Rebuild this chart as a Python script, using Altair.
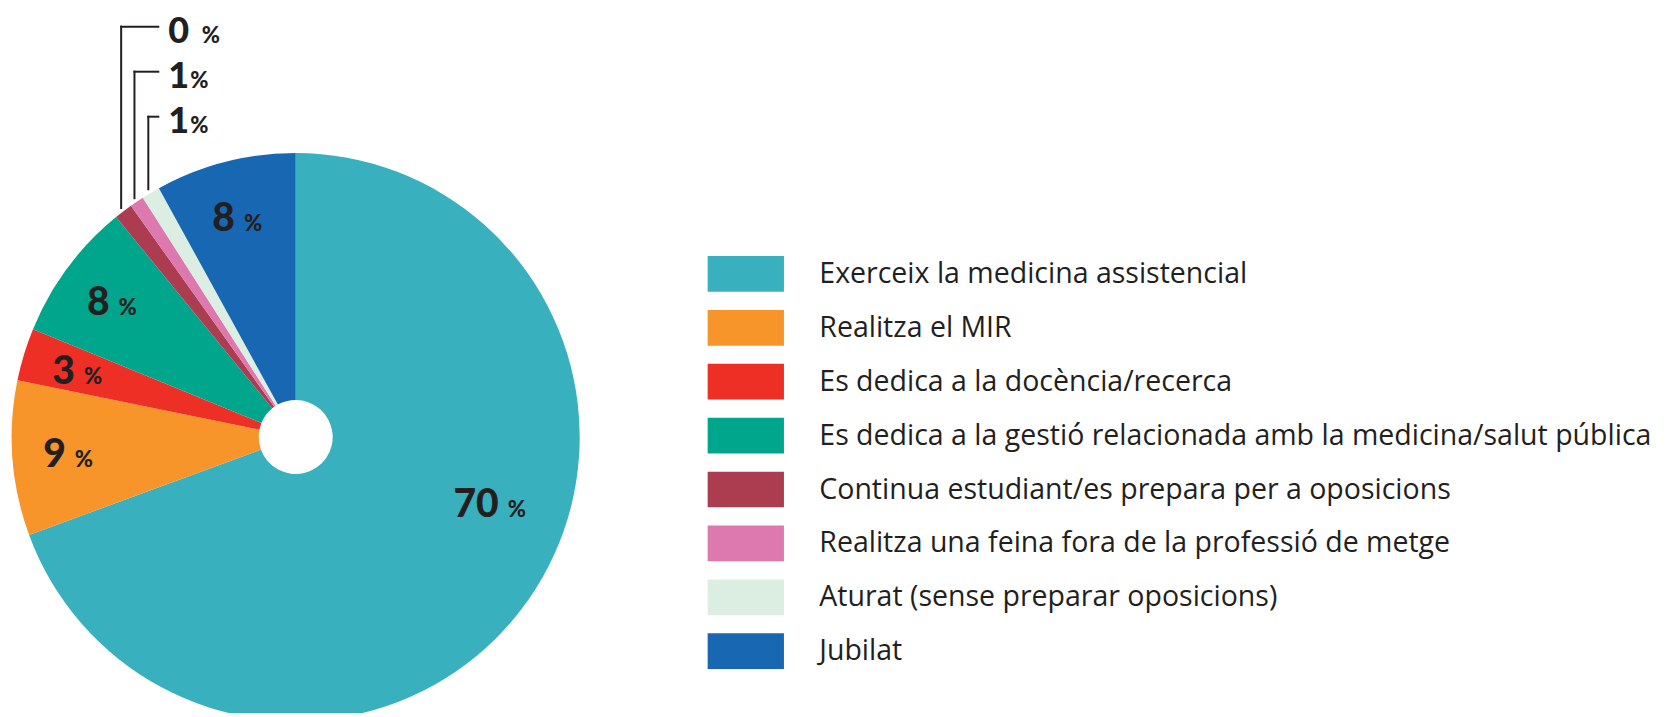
import altair as alt
import pandas as pd

# ---- data ----
categories = [
    "Exerceix la medicina assistencial",
    "Realitza el MIR",
    "Es dedica a la docència/recerca",
    "Es dedica a la gestió relacionada amb la medicina/salut pública",
    "Continua estudiant/es prepara per a oposicions",
    "Realitza una feina fora de la professió de metge",
    "Aturat (sense preparar oposicions)",
    "Jubilat",
]
values = [69.4, 8.8, 3.0, 7.9, 1.05, 0.8, 1.05, 8.0]
labels = ["70", "9", "3", "8", "0", "1", "1", "8"]
callout = [False, False, False, False, True, True, True, False]
colors = ["#38b0bd", "#f7952b", "#ee2f25", "#00a68b", "#ac3c50", "#de79b0", "#dcede1", "#1867b3"]

df = pd.DataFrame({
    "cat": categories,
    "value": values,
    "lab": labels,
    "callout": callout,
    "idx": list(range(len(categories))),
})

# ---- layout constants (pixels, chart coordinates) ----
W, H = 1650, 705
CX, CY = 287.7, 429.0
R, R0 = 284, 37
LR = 226
INK = "#231f20"
NUMFONT = "Lato"
TXTFONT = "Open Sans"

color = alt.Color("cat:N", scale=alt.Scale(domain=categories, range=colors), legend=None)
theta = alt.Theta("value:Q", stack=True)
order = alt.Order("idx:Q")
idx_x = alt.Scale(domain=[0, W], range=[0, W])
idx_y = alt.Scale(domain=[0, H], range=[0, H])

base = alt.Chart(df)

pie = base.mark_arc(outerRadius=R, innerRadius=R0).encode(
    theta=theta, order=order, color=color,
    x=alt.value(CX), y=alt.value(CY),
)

num_style = dict(radius=LR, baseline="alphabetic", dy=13, font=NUMFONT, fontSize=39,
                 fontWeight=900, color=INK)
pct_style = dict(radius=LR, baseline="alphabetic", dy=13, font=NUMFONT, fontSize=22,
                 fontWeight=900, color=INK)

lab_num = base.transform_calculate(
    t="(datum.callout || datum.idx == 0) ? '' : datum.lab"
).mark_text(align="right", dx=-4.5, **num_style).encode(
    theta=theta, order=order, text="t:N", x=alt.value(CX), y=alt.value(CY))
lab_pct = base.transform_calculate(
    t="(datum.callout || datum.idx == 0) ? '' : '%'"
).mark_text(align="left", dx=4.5, **pct_style).encode(
    theta=theta, order=order, text="t:N", x=alt.value(CX), y=alt.value(CY))

big_num = base.transform_calculate(
    t="datum.idx == 0 ? datum.lab : ''"
).mark_text(align="right", dx=-4.5, thetaOffset=-0.298, radiusOffset=-8, **num_style).encode(
    theta=theta, order=order, text="t:N", x=alt.value(CX), y=alt.value(CY))
big_pct = base.transform_calculate(
    t="datum.idx == 0 ? '%' : ''"
).mark_text(align="left", dx=4.5, thetaOffset=-0.298, radiusOffset=-8, **pct_style).encode(
    theta=theta, order=order, text="t:N", x=alt.value(CX), y=alt.value(CY))

# ---- callouts for the tiny slices ----
LY0, LSTEP = 18.7, 45.0
TX_LINE = 150.3
TX_TEXT = 160.3

lead = base.transform_window(
    cum="sum(value)", sort=[alt.SortField("idx")]
).transform_joinaggregate(tot="sum(value)").transform_filter(
    "datum.callout"
).transform_window(
    k="row_number()", sort=[alt.SortField("idx")]
).transform_calculate(
    mid="(datum.cum - datum.value/2) / datum.tot * 2 * PI - 0.01",
    ex=f"{CX} + {R} * sin(datum.mid)",
    ey=f"{CY} - {R} * cos(datum.mid) - 5",
    ly=f"{LY0} + (datum.k - 1) * {LSTEP}",
    tx=f"{TX_TEXT}",
    px=f"{TX_TEXT} + (datum.lab == '1' ? 22 : 33.5)",
)

vline = lead.mark_rule(color=INK, strokeWidth=2, strokeCap="square").encode(
    x=alt.X("ex:Q", scale=idx_x, axis=None),
    y=alt.Y("ey:Q", scale=idx_y, axis=None),
    y2="ly:Q",
)
hline = lead.mark_rule(color=INK, strokeWidth=2, strokeCap="square").encode(
    x=alt.X("ex:Q", scale=idx_x, axis=None),
    x2=alt.value(TX_LINE),
    y=alt.Y("ly:Q", scale=idx_y, axis=None),
)
c_num = lead.mark_text(align="left", baseline="alphabetic", dy=16.5, font=NUMFONT,
                       fontSize=36, fontWeight=900, color=INK).encode(
    x=alt.X("tx:Q", scale=idx_x, axis=None),
    y=alt.Y("ly:Q", scale=idx_y, axis=None),
    text="lab:N",
)
c_pct = lead.mark_text(align="left", baseline="alphabetic", dy=16.5, font=NUMFONT,
                       fontSize=22, fontWeight=900, color=INK).encode(
    x=alt.X("px:Q", scale=idx_x, axis=None),
    y=alt.Y("ly:Q", scale=idx_y, axis=None),
    text=alt.value("%"),
)

# ---- legend drawn as marks ----
leg_y = alt.Y("cat:N", scale=alt.Scale(type="point", domain=categories,
                                        range=[265.9, 643.2], padding=0), axis=None)
swatch = base.mark_point(shape="M-1,-0.468H1V0.468H-1Z", size=5822, filled=True,
                         opacity=1, strokeWidth=0).encode(
    x=alt.value(737.8), y=leg_y, color=color)
leg_text = base.mark_text(align="left", baseline="middle", font=TXTFONT,
                          fontSize=28.5, color=INK).encode(
    x=alt.value(811.3), y=leg_y, text="cat:N")

chart = alt.layer(
    pie, lab_num, lab_pct, big_num, big_pct,
    vline, hline, c_num, c_pct, swatch, leg_text,
).resolve_scale(
    x="independent", y="independent"
).properties(
    width=W, height=H, padding=0, autosize=alt.AutoSizeParams(type="none"),
    background="white",
).configure_view(strokeWidth=0)

chart.save("out.html", embed_options={"renderer": "svg", "actions": False})
